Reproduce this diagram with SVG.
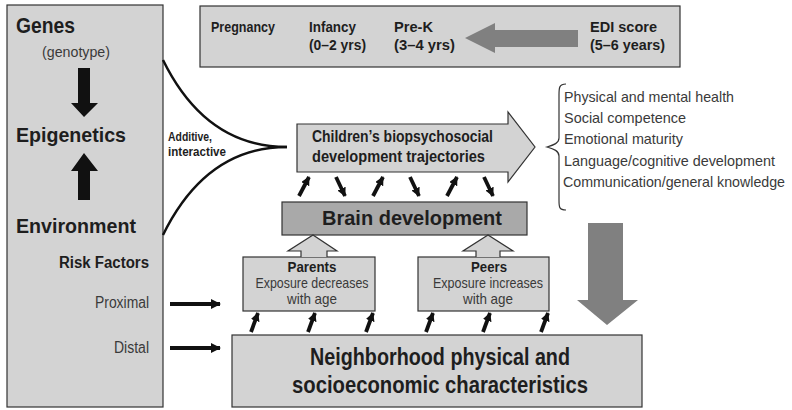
<svg xmlns="http://www.w3.org/2000/svg" width="792" height="410" viewBox="0 0 792 410">
<defs>
<marker id="ah" viewBox="0 0 10 10" refX="9" refY="5" markerWidth="10" markerHeight="10" markerUnits="userSpaceOnUse" orient="auto">
<path d="M0,0 L10,5 L0,10 Z" fill="#111"/>
</marker>
<marker id="ahs" viewBox="0 0 10 10" refX="9" refY="5" markerWidth="9" markerHeight="9" markerUnits="userSpaceOnUse" orient="auto">
<path d="M0,0 L10,5 L0,10 Z" fill="#111"/>
</marker>
</defs>
<style>
text{font-family:"Liberation Sans",Arial,sans-serif;fill:#1e1e1e}
.b{font-weight:bold}
.l{fill:#3a3a3a}
.box{fill:#d3d3d3;stroke:#333;stroke-width:1.2}
.dark{fill:#a9a9a9;stroke:#333;stroke-width:1.2}
.ar{stroke:#111;stroke-width:4;fill:none}
.sm{stroke:#111;stroke-width:3.8;fill:none}
.cv{stroke:#111;stroke-width:2.5;fill:none}
.grey{fill:#808080}
</style>
<rect width="792" height="410" fill="#fff"/>

<g id="left">
<rect class="box" x="7" y="5" width="156" height="402"/>
<text class="b" x="16" y="33" font-size="22" textLength="59" lengthAdjust="spacingAndGlyphs">Genes</text>
<text class="l" x="42" y="57" font-size="15" textLength="68" lengthAdjust="spacingAndGlyphs">(genotype)</text>
<path d="M78,68 H90 V103 H98 L84,117 L71,103 H78 Z" fill="#111"/>
<text class="b" x="16" y="142" font-size="21" textLength="110" lengthAdjust="spacingAndGlyphs">Epigenetics</text>
<path d="M84,153 L98,171 H90 V200 H78 V171 H71 Z" fill="#111"/>
<text class="b" x="16" y="233" font-size="21" textLength="120" lengthAdjust="spacingAndGlyphs">Environment</text>
<text class="b" x="149" y="268" font-size="16" text-anchor="end" textLength="90" lengthAdjust="spacingAndGlyphs">Risk Factors</text>
<text class="l" x="149" y="308" font-size="16" text-anchor="end" textLength="54" lengthAdjust="spacingAndGlyphs">Proximal</text>
<text class="l" x="149" y="353" font-size="16" text-anchor="end" textLength="35" lengthAdjust="spacingAndGlyphs">Distal</text>
</g>

<g id="timeline">
<rect class="box" x="200" y="6" width="480" height="61"/>
<text class="b" font-size="15" x="211" y="32" textLength="64" lengthAdjust="spacingAndGlyphs">Pregnancy</text>
<text class="b" font-size="15" x="309" y="32" textLength="47" lengthAdjust="spacingAndGlyphs">Infancy</text>
<text class="b" font-size="15" x="309" y="50" textLength="57" lengthAdjust="spacingAndGlyphs">(0–2 yrs)</text>
<text class="b" font-size="15" x="394" y="32" textLength="39" lengthAdjust="spacingAndGlyphs">Pre-K</text>
<text class="b" font-size="15" x="394" y="50" textLength="61" lengthAdjust="spacingAndGlyphs">(3–4 yrs)</text>
<text class="b" font-size="15" x="590" y="32" textLength="67" lengthAdjust="spacingAndGlyphs">EDI score</text>
<text class="b" font-size="15" x="590" y="50" textLength="75" lengthAdjust="spacingAndGlyphs">(5–6 years)</text>
<path class="grey" d="M465,38 L495,23 V30 H578 V47 H495 V53 Z"/>
</g>

<g id="outcomes">
<path d="M566,84 C559,84 559,88 559,95 V138 C559,143 554,145 547,147 C554,149 559,151 559,156 V200 C559,207 559,210 566,210" fill="none" stroke="#333" stroke-width="1.2"/>
<text class="l" font-size="14.5" x="564" y="102" textLength="170" lengthAdjust="spacingAndGlyphs">Physical and mental health</text>
<text class="l" font-size="14.5" x="564" y="123" textLength="122" lengthAdjust="spacingAndGlyphs">Social competence</text>
<text class="l" font-size="14.5" x="564" y="144" textLength="119" lengthAdjust="spacingAndGlyphs">Emotional maturity</text>
<text class="l" font-size="14.5" x="564" y="166" textLength="211" lengthAdjust="spacingAndGlyphs">Language/cognitive development</text>
<text class="l" font-size="14.5" x="563" y="187" textLength="222" lengthAdjust="spacingAndGlyphs">Communication/general knowledge</text>
</g>

<g id="trajectories">
<path class="box" d="M297,124 H508 V112 L535,147 L508,182 V172 H297 Z"/>
<text class="b" font-size="16" x="312" y="142" textLength="181" lengthAdjust="spacingAndGlyphs">Children’s biopsychosocial</text>
<text class="b" font-size="16" x="312" y="162" textLength="173" lengthAdjust="spacingAndGlyphs">development trajectories</text>
</g>

<g id="brain">
<rect class="dark" x="282" y="202" width="245" height="33"/>
<text class="b" font-size="21" x="322" y="225" textLength="180" lengthAdjust="spacingAndGlyphs">Brain development</text>
</g>

<g id="parents">
<rect class="box" x="243" y="257" width="132" height="54"/>
<text class="b" font-size="15" x="312" y="272" text-anchor="middle" textLength="49" lengthAdjust="spacingAndGlyphs">Parents</text>
<text class="l" font-size="15" x="312" y="288" text-anchor="middle" textLength="113" lengthAdjust="spacingAndGlyphs">Exposure decreases</text>
<text class="l" font-size="15" x="312" y="304" text-anchor="middle" textLength="50" lengthAdjust="spacingAndGlyphs">with age</text>
</g>

<g id="peers">
<rect class="box" x="418" y="257" width="131" height="54"/>
<text class="b" font-size="15" x="489" y="272" text-anchor="middle" textLength="36" lengthAdjust="spacingAndGlyphs">Peers</text>
<text class="l" font-size="15" x="488" y="288" text-anchor="middle" textLength="110" lengthAdjust="spacingAndGlyphs">Exposure increases</text>
<text class="l" font-size="15" x="488" y="304" text-anchor="middle" textLength="50" lengthAdjust="spacingAndGlyphs">with age</text>
</g>

<g id="neighborhood">
<rect class="box" x="232" y="335" width="410" height="72"/>
<text class="b" font-size="23" x="310" y="365" textLength="260" lengthAdjust="spacingAndGlyphs">Neighborhood physical and</text>
<text class="b" font-size="23" x="292" y="393" textLength="296" lengthAdjust="spacingAndGlyphs">socioeconomic characteristics</text>
</g>

<g id="connectors">
<path class="cv" d="M163,60 C190,115 230,147 287,147"/>
<path class="cv" d="M163,235 C190,180 230,147 287,147"/>
<text class="b" font-size="12.5" x="168" y="141" textLength="44" lengthAdjust="spacingAndGlyphs">Additive,</text>
<text class="b" font-size="12.5" x="168" y="156" textLength="58" lengthAdjust="spacingAndGlyphs">interactive</text>

<line class="ar" x1="170" y1="304" x2="220" y2="304" marker-end="url(#ah)"/>
<line class="ar" x1="170" y1="348" x2="220" y2="348" marker-end="url(#ah)"/>

<line class="sm" x1="299" y1="196" x2="309" y2="177" marker-end="url(#ahs)"/>
<line class="sm" x1="336" y1="177" x2="345" y2="196" marker-end="url(#ahs)"/>
<line class="sm" x1="373" y1="196" x2="383" y2="177" marker-end="url(#ahs)"/>
<line class="sm" x1="410" y1="177" x2="419" y2="196" marker-end="url(#ahs)"/>
<line class="sm" x1="447" y1="196" x2="457" y2="177" marker-end="url(#ahs)"/>
<line class="sm" x1="484" y1="177" x2="493" y2="196" marker-end="url(#ahs)"/>

<line class="sm" x1="251" y1="332" x2="258" y2="313" marker-end="url(#ahs)"/>
<line class="sm" x1="308" y1="332" x2="315" y2="313" marker-end="url(#ahs)"/>
<line class="sm" x1="366" y1="332" x2="373" y2="313" marker-end="url(#ahs)"/>
<line class="sm" x1="426" y1="332" x2="433" y2="313" marker-end="url(#ahs)"/>
<line class="sm" x1="483" y1="332" x2="490" y2="313" marker-end="url(#ahs)"/>
<line class="sm" x1="541" y1="332" x2="548" y2="313" marker-end="url(#ahs)"/>

<path d="M301,257 V251 H288 L313,235 L337,251 H327 V257" fill="#d3d3d3" stroke="#333" stroke-width="1.2"/>
<path d="M476,257 V251 H463 L488,235 L513,251 H500 V257" fill="#d3d3d3" stroke="#333" stroke-width="1.2"/>

<path class="grey" d="M588,223 H623 V300 H638 L607,325 L577,300 H588 Z"/>
</g>
</svg>
